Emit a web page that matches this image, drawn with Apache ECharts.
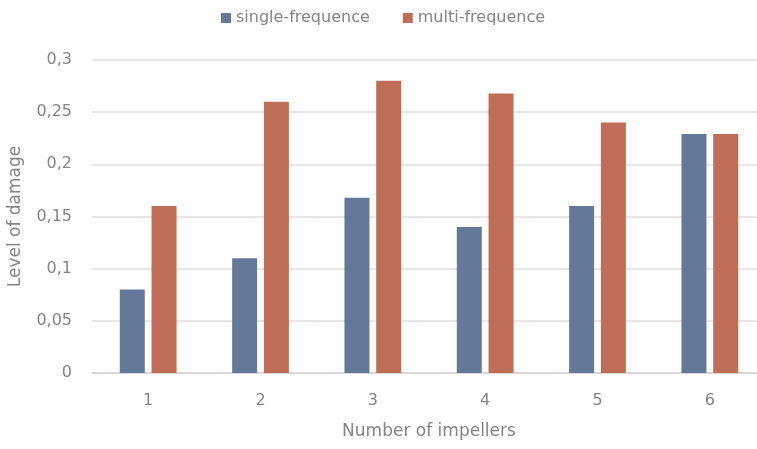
<!DOCTYPE html>
<html>
<head>
<meta charset="utf-8">
<script src="https://cdn.jsdelivr.net/npm/echarts@6/dist/echarts.min.js"></script>
<style>
  html, body { margin: 0; padding: 0; background: #ffffff; }
  #chart { width: 757px; height: 449px; }
</style>
</head>
<body>
<div id="chart"></div>
<script>
// Impeller count categories
const categories = ['1', '2', '3', '4', '5', '6'];
// Damage level for each excitation type
const singleFrequence = [0.08, 0.11, 0.168, 0.14, 0.16, 0.229];
const multiFrequence = [0.16, 0.26, 0.28, 0.268, 0.24, 0.229];
// Y tick labels (decimal comma), bottom to top
const yTickLabels = ['0', '0,05', '0,1', '0,15', '0,2', '0,25', '0,3'];

const seriesNames = ['single-frequence', 'multi-frequence'];
const textColor = '#858585';
const fontFamily = '"DejaVu Sans", sans-serif';

const chart = echarts.init(document.getElementById('chart'), null, { renderer: 'canvas' });
chart.setOption({
  animation: false,
  backgroundColor: '#ffffff',
  textStyle: { fontFamily: fontFamily },
  legend: {
    data: seriesNames,
    top: 5,
    left: 216,
    itemWidth: 10,
    itemHeight: 10,
    itemGap: 33,
    icon: 'rect',
    textStyle: { color: textColor, fontSize: 16, fontFamily: fontFamily }
  },
  // plot area runs slightly past the right edge of the canvas
  grid: {
    left: 92, top: 60, width: 674, height: 313,
    containLabel: false,
    outerBoundsMode: 'none'
  },
  xAxis: {
    type: 'category',
    data: categories,
    name: 'Number of impellers',
    nameLocation: 'middle',
    nameGap: 50,
    nameTextStyle: { color: textColor, fontSize: 17, fontFamily: fontFamily },
    axisLine: { lineStyle: { color: '#d6d2d2', width: 1.5 } },
    axisTick: { show: false },
    axisLabel: { color: textColor, fontSize: 16, margin: 20, fontFamily: fontFamily }
  },
  yAxis: {
    type: 'value',
    min: 0,
    max: 0.3,
    interval: 0.05,
    name: 'Level of damage',
    nameLocation: 'middle',
    nameGap: 68,
    nameTextStyle: { color: textColor, fontSize: 17, fontFamily: fontFamily },
    axisLine: { show: false },
    axisTick: { show: false },
    splitLine: { lineStyle: { color: '#e3dede', width: 1.5 } },
    axisLabel: {
      color: textColor,
      fontSize: 16,
      margin: 20,
      fontFamily: fontFamily,
      formatter: (value, index) => yTickLabels[index]
    }
  },
  series: [
    {
      name: seriesNames[0],
      type: 'bar',
      data: singleFrequence,
      barWidth: 25,
      barGap: '27%',
      itemStyle: { color: '#64799a' }
    },
    {
      name: seriesNames[1],
      type: 'bar',
      data: multiFrequence,
      barWidth: 25,
      barGap: '27%',
      itemStyle: { color: '#bf6d57' }
    }
  ]
});
</script>
</body>
</html>
